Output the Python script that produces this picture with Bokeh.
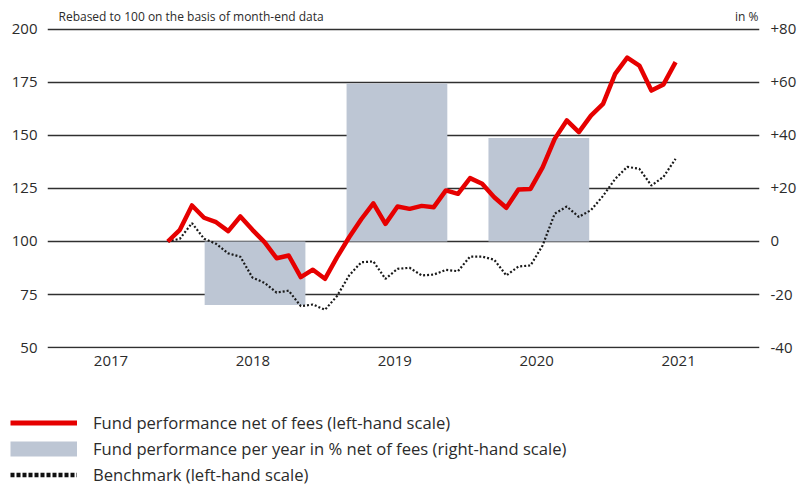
import pandas as pd
from bokeh.plotting import figure
from bokeh.models import (Range1d, FixedTicker, Legend, LegendItem, Label,
                          LinearAxis, ColumnDataSource)
from bokeh.embed import file_html
from bokeh.resources import INLINE

# ---------------- data ----------------
months = pd.period_range("2017-11", periods=43, freq="M").strftime("%Y-%m").tolist()
fund = [100.0, 105.5, 117.0, 111.2, 109.1, 104.9, 111.8, 105.5, 99.7, 92.1,
        93.4, 83.2, 86.7, 82.4, 92.6, 102.0, 110.5, 118.0, 108.3, 116.5,
        115.4, 116.8, 116.2, 124.1, 122.5, 129.9, 127.2, 120.9, 115.9, 124.5,
        124.8, 135.0, 148.4, 157.1, 151.6, 159.4, 164.9, 179.1, 186.7, 183.0,
        171.2, 174.1, 184.6]
benchmark = [100.0, 101.3, 108.7, 101.3, 98.9, 94.4, 92.8, 83.0, 80.5, 75.9,
             76.8, 69.5, 70.3, 67.8, 74.3, 84.0, 90.2, 90.6, 82.4, 87.1,
             87.6, 84.0, 84.4, 86.6, 86.0, 92.9, 92.9, 91.4, 84.0, 88.2,
             88.7, 98.1, 113.1, 116.5, 111.6, 114.8, 121.5, 129.5, 135.2, 134.3,
             126.4, 130.5, 139.0]
bar_years = [2018, 2019, 2020]
bar_values = [-24.0, 59.6, 39.1]
year_labels = [2017, 2018, 2019, 2020, 2021]
left_ticks = [50, 75, 100, 125, 150, 175, 200]
right_ticks = [-40, -20, 0, 20, 40, 60, 80]
right_tick_labels = ["-40", "-20", "0", "+20", "+40", "+60", "+80"]
legend_labels = ["Fund performance net of fees (left-hand scale)",
                 "Fund performance per year in % net of fees (right-hand scale)",
                 "Benchmark (left-hand scale)"]

FONT = "Open Sans"
TXT = "#2b2b2b"
RED = "#e60000"
GREY = "#bdc6d4"
DOT = "#1a1a1a"

# left scale 50..200 ; right scale = (left - 100) * 0.8
Y0, Y1 = 49.53, 212.26

# ---------------- main figure ----------------
p = figure(width=800, height=390, output_backend="svg", toolbar_location=None,
           x_range=Range1d(2017.0525, 2022.070), y_range=Range1d(Y0, Y1),
           min_border_left=47, min_border_right=41, min_border_top=3,
           min_border_bottom=42)
p.extra_x_ranges = {"months": Range1d(-9.95, 48.94)}
p.extra_y_ranges = {"right": Range1d((Y0 - 100) * 0.8, (Y1 - 100) * 0.8)}
p.outline_line_color = None
p.background_fill_color = "white"
p.border_fill_color = "white"

bar_src = ColumnDataSource(dict(x=[y + 0.515 for y in bar_years], top=bar_values))
p.vbar(x="x", top="top", bottom=0, width=0.71, source=bar_src,
       y_range_name="right", fill_color=GREY, line_color=None)

idx = list(range(len(months)))
p.line(idx, benchmark, x_range_name="months", line_color=DOT,
       line_width=2.2, line_dash="2 2")
p.line(idx, fund, x_range_name="months", line_color=RED,
       line_width=4.5, line_join="round")

xa = p.xaxis[0]
xa.ticker = FixedTicker(ticks=[y + 0.5 for y in year_labels])
xa.major_label_overrides = {y + 0.5: str(y) for y in year_labels}
ya = p.yaxis[0]
ya.ticker = FixedTicker(ticks=left_ticks)
ra = LinearAxis(y_range_name="right", ticker=FixedTicker(ticks=right_ticks),
                major_label_overrides=dict(zip(right_ticks, right_tick_labels)))
p.add_layout(ra, "right")
for ax in (xa, ya, ra):
    ax.axis_line_color = None
    ax.major_tick_line_color = None
    ax.minor_tick_line_color = None
    ax.major_tick_out = 0
    ax.major_tick_in = 0
    ax.major_label_text_font = FONT
    ax.major_label_text_font_size = "15px"
    ax.major_label_text_color = TXT
xa.major_label_standoff = 7
ya.major_label_standoff = 10
ra.major_label_standoff = 11

p.xgrid.grid_line_color = None
p.ygrid.grid_line_color = "#303030"
p.ygrid.grid_line_width = 1.3

p.add_layout(Label(x=11, y=332, x_units="screen", y_units="screen",
                   text="Rebased to 100 on the basis of month-end data",
                   text_baseline="middle", text_font=FONT,
                   text_font_size="12px", text_color=TXT))
p.add_layout(Label(x=711, y=332, x_units="screen", y_units="screen",
                   text="in %", text_align="right", text_baseline="middle",
                   text_font=FONT, text_font_size="12px", text_color=TXT))

# ---------------- legend strip ----------------
lg = figure(width=800, height=98, output_backend="svg", toolbar_location=None,
            x_range=Range1d(0, 1), y_range=Range1d(0, 1),
            x_axis_location=None, y_axis_location=None,
            min_border_left=0, min_border_right=0, min_border_top=0,
            min_border_bottom=0)
lg.outline_line_color = None
lg.grid.visible = False
# proxy glyphs for the legend keys (their data lie outside the strip's ranges)
proxy = ColumnDataSource(dict(x=[-5, -4], y=[-5, -4]))
r1 = lg.line("x", "y", source=proxy, line_color=RED, line_width=5)
r2 = lg.line("x", "y", source=proxy, line_color=GREY, line_width=15)
r3 = lg.line("x", "y", source=proxy, line_color="#111111", line_width=4.5,
             line_dash="4 2")
legend = Legend(items=[LegendItem(label=t, renderers=[r])
                       for t, r in zip(legend_labels, [r1, r2, r3])],
                location=(10, 2.5), orientation="vertical",
                glyph_width=67, glyph_height=23, label_height=23,
                label_standoff=16, spacing=3, padding=0, margin=0,
                border_line_color=None, background_fill_alpha=0,
                label_text_font=FONT, label_text_font_size="16.6px",
                label_text_color=TXT)
lg.add_layout(legend, "center")

open("out.html", "w").write(file_html([p, lg], INLINE))
